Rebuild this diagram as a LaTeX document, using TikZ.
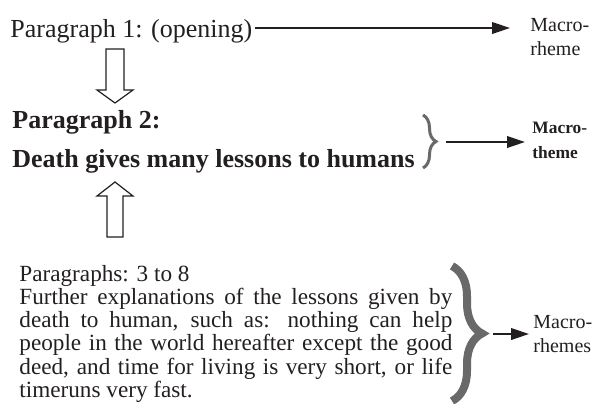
\documentclass[tikz,border=0pt]{standalone}
\usepackage{fontspec}
\setmainfont{Liberation Serif}
\usepackage{xcolor}
\usetikzlibrary{calc,arrows.meta,positioning,decorations.pathreplacing}
\definecolor{ink}{RGB}{35,31,32}
\definecolor{brc}{RGB}{105,105,105}
\tikzset{
  ptext/.style={ink,inner sep=0pt,anchor=base west,font=\fontsize{13}{15}\selectfont},
  mlabel/.style={ink,inner sep=0pt,anchor=base west,align=left,font=\fontsize{10}{11.8}\selectfont},
  marr/.style={ink,line width=1pt,-{Triangle[length=9pt,width=5.8pt]}},
  hollow/.style={ink,line width=0.6pt,fill=white},
  mbrace/.style={brc,decorate},
}
\begin{document}
\begin{tikzpicture}[x=0.5pt,y=-0.5pt]
  \useasboundingbox (0,0) rectangle (595,403);
  % left column
  \node[ptext] (p1) at (10,37) {Paragraph 1: (opening)};
  \node[ptext,align=left,font=\bfseries\fontsize{13}{19.5}\selectfont] (p2) at (12,167)
    {Paragraph 2:\\Death gives many lessons to humans};
  \node[ptext,text width=216.5pt,align=justify,font=\fontsize{11.6}{11.65}\selectfont] (p3) at (19,281)
    {\hyphenpenalty=10000 \tolerance=10000 Paragraphs: 3 to 8\\Further explanations of the lessons given by\linebreak
     death to human, such as: nothing can help\linebreak
     people in the world hereafter except the good\linebreak
     deed, and time for living is very short, or life\linebreak
     timeruns very fast.};
  % hollow arrows
  \draw[hollow] (106,49) -- (124,49) -- (124,90) -- (133,90) -- (115,103)
    -- (97,90) -- (106,90) -- cycle;
  \draw[hollow] (107,237) -- (123,237) -- (123,196) -- (133,196) -- (115,182)
    -- (97,196) -- (107,196) -- cycle;
  % braces
  \draw[mbrace,line width=1.5pt,decoration={brace,amplitude=6.5pt}] (423,115) -- (423,168);
  \draw[mbrace,line width=4pt,decoration={brace,amplitude=15pt}] (452,266) -- (452,401);
  \coordinate (thb) at (438,142);
  \coordinate (rsb) at (488,334);
  % right labels
  \node[mlabel] (mrh) at (530,55) {Macro-\\rheme};
  \node[mlabel,font=\bfseries\fontsize{8.7}{12.5}\selectfont] (mth) at (532,158) {Macro-\\theme};
  \node[mlabel] (mrs) at (533,352) {Macro-\\rhemes};
  % arrows
  \draw[marr,shorten >=10pt] ($(p1.base east)+(2,-9)$) coordinate (o1) -- (o1 -| mrh.west);
  \draw[marr,shorten <=4pt,shorten >=3.5pt] (thb) -- (thb -| mth.west);
  \draw[marr,shorten <=2.5pt,shorten >=2pt] (rsb) -- (rsb -| mrs.west);
\end{tikzpicture}
\end{document}
